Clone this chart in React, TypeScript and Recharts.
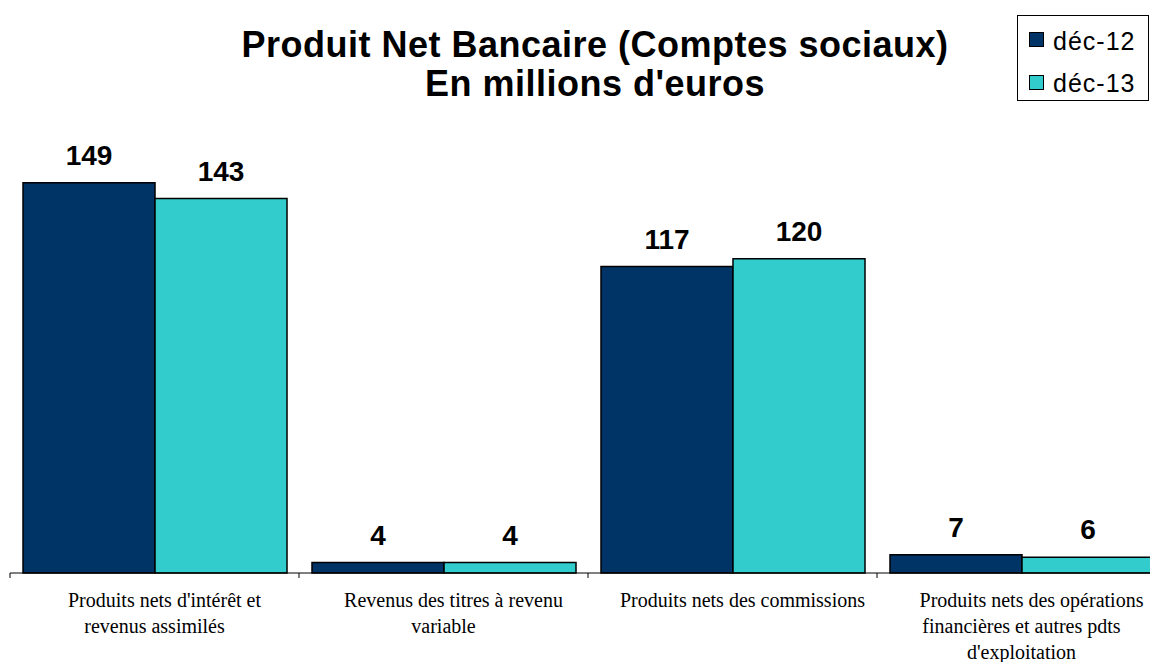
import React from 'react';
import { Bar, BarChart, LabelList, XAxis, YAxis } from 'recharts';

const categories = [
  "Produits nets d'intérêt et\nrevenus assimilés",
  'Revenus des titres à revenu\nvariable',
  'Produits nets des commissions',
  "Produits nets des opérations\nfinancières et autres pdts\nd'exploitation",
];
const dec12 = [149, 4, 117, 7];
const dec13 = [143, 4, 120, 6];
const seriesNames = ['déc-12', 'déc-13'];
const seriesColors = ['#003366', '#33CCCC'];

const data = categories.map((name, i) => ({ name, d12: dec12[i], d13: dec13[i] }));

const SANS = '"Liberation Sans", Arial, sans-serif';
const SERIF = '"Liberation Serif", "Times New Roman", serif';

const CategoryTick = (props: any) => {
  const { x, y, payload, index, visibleTicksCount } = props;
  const half = payload?.offset ?? 144.5;
  const lines = String(payload.value).split('\n');
  const last = index === visibleTicksCount - 1;
  return (
    <g>
      <line x1={x - half} y1={y} x2={x - half} y2={y + 5} stroke="#000" strokeWidth={1} />
      {last && <line x1={x + half} y1={y} x2={x + half} y2={y + 5} stroke="#000" strokeWidth={1} />}
      {lines.map((l, i) => (
        <text
          key={i}
          x={x + (i === 0 ? 10 : 0)}
          y={y + 34 + i * 26}
          textAnchor="middle"
          fontFamily={SERIF}
          fontSize={20}
          fill="#000"
        >
          {l}
        </text>
      ))}
    </g>
  );
};

const ValueLabel = (props: any) => {
  const { x, y, width, value } = props;
  return (
    <text
      x={x + width / 2}
      y={y - 18}
      textAnchor="middle"
      fontFamily={SANS}
      fontWeight="bold"
      fontSize={28}
      fill="#000"
    >
      {value}
    </text>
  );
};

export default function App() {
  return (
    <div
      style={{
        position: 'absolute',
        left: 0,
        top: 0,
        width: 1150,
        height: 662,
        overflow: 'hidden',
        background: '#fff',
      }}
    >
      <div
        style={{
          position: 'absolute',
          left: 0,
          top: 25,
          width: 1190,
          textAlign: 'center',
          fontFamily: SANS,
          fontWeight: 'bold',
          fontSize: 36,
          lineHeight: '39px',
          letterSpacing: 0.5,
          color: '#000',
        }}
      >
        <div>Produit Net Bancaire (Comptes sociaux)</div>
        <div>En millions d'euros</div>
      </div>

      <div
        style={{
          position: 'absolute',
          left: 1017,
          top: 15,
          width: 132,
          height: 86,
          boxSizing: 'border-box',
          border: '1px solid #000',
          fontFamily: SANS,
          fontSize: 25,
          letterSpacing: 1,
          color: '#000',
        }}
      >
        {seriesNames.map((n, i) => (
          <div key={n}>
            <div
              style={{
                position: 'absolute',
                left: 11,
                top: 16 + i * 43,
                width: 15,
                height: 15,
                boxSizing: 'border-box',
                border: '1px solid #000',
                background: seriesColors[i],
              }}
            />
            <div style={{ position: 'absolute', left: 35, top: 13 + i * 42, lineHeight: '25px' }}>{n}</div>
          </div>
        ))}
      </div>

      <BarChart
        width={1170}
        height={662}
        data={data}
        margin={{ top: 154, right: 4, left: 10, bottom: 0 }}
        barCategoryGap={13}
        barGap={0}
      >
        <YAxis hide width={0} domain={[0, 160]} />
        <XAxis
          dataKey="name"
          height={89}
          axisLine={{ stroke: '#000', strokeWidth: 1 }}
          tickLine={false}
          tickSize={0}
          tickMargin={0}
          interval={0}
          tick={<CategoryTick />}
        />
        <Bar dataKey="d12" name={seriesNames[0]} fill={seriesColors[0]} stroke="#000" strokeWidth={1.5} isAnimationActive={false}>
          <LabelList dataKey="d12" content={<ValueLabel />} />
        </Bar>
        <Bar dataKey="d13" name={seriesNames[1]} fill={seriesColors[1]} stroke="#000" strokeWidth={1.5} isAnimationActive={false}>
          <LabelList dataKey="d13" content={<ValueLabel />} />
        </Bar>
      </BarChart>
    </div>
  );
}
